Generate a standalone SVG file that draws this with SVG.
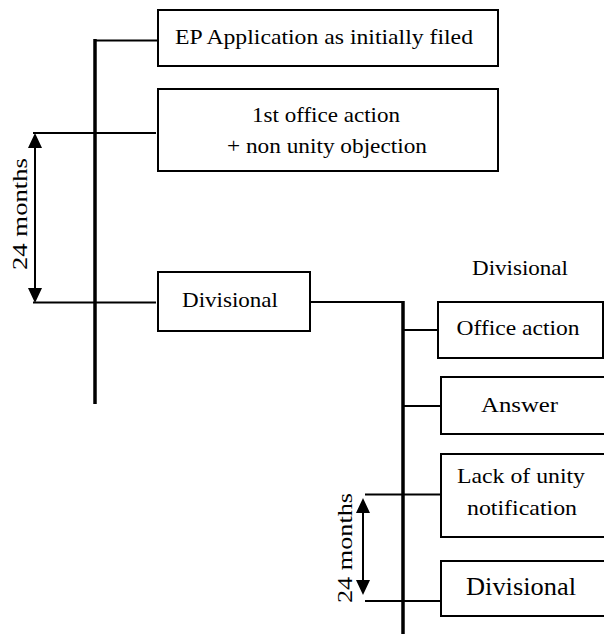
<svg xmlns="http://www.w3.org/2000/svg" width="604" height="635" viewBox="0 0 604 635">
<style>
.box{fill:#fff;stroke:#000;stroke-width:2}
.t{font-size:22px;fill:#000;text-anchor:middle}
.ln{stroke:#000;stroke-width:2;fill:none}
.thick{stroke:#000;stroke-width:3.5;fill:none}
.ah{fill:#000;stroke:none}
</style>
<rect width="604" height="635" fill="#fff"/>
<g id="connectors">
<line class="thick" x1="95" y1="39" x2="95" y2="404"/>
<line class="ln" x1="95" y1="40.5" x2="158" y2="40.5"/>
<line class="ln" x1="33" y1="133" x2="156" y2="133"/>
<line class="ln" x1="33" y1="302.5" x2="156" y2="302.5"/>
<line class="ln" x1="310" y1="302" x2="403" y2="302"/>
<line class="thick" x1="403" y1="301" x2="403" y2="634"/>
<line class="ln" x1="403" y1="330" x2="438" y2="330"/>
<line class="ln" x1="403" y1="406" x2="441" y2="406"/>
<line class="ln" x1="365" y1="494.5" x2="441" y2="494.5"/>
<line class="ln" x1="365" y1="601" x2="441" y2="601"/>
<line class="ln" x1="35" y1="145" x2="35" y2="290"/>
<polygon class="ah" points="35,133 28,148 42,148"/>
<polygon class="ah" points="35,303 28,288 42,288"/>
<line class="ln" x1="363" y1="510" x2="363" y2="583"/>
<polygon class="ah" points="363,498 356,513 370,513"/>
<polygon class="ah" points="363,595 356,580 370,580"/>
</g>
<g font-family="Liberation Serif, DejaVu Serif, serif">
<g id="months1"><text class="t" transform="translate(27,214) rotate(-90)" textLength="112" lengthAdjust="spacingAndGlyphs">24 months</text></g>
<g id="months2"><text class="t" transform="translate(352,548) rotate(-90)" textLength="110" lengthAdjust="spacingAndGlyphs">24 months</text></g>
<g id="ep-application">
<rect class="box" x="158" y="10" width="340" height="56"/>
<text class="t" x="324" y="44" textLength="298" lengthAdjust="spacingAndGlyphs">EP Application as initially filed</text>
</g>
<g id="first-office-action">
<rect class="box" x="158" y="89" width="340" height="82"/>
<text class="t" x="326" y="122" textLength="148" lengthAdjust="spacingAndGlyphs">1st office action</text>
<text class="t" x="327" y="153" textLength="200" lengthAdjust="spacingAndGlyphs">+ non unity objection</text>
</g>
<g id="divisional-1">
<rect class="box" x="158" y="272" width="152" height="59"/>
<text class="t" x="230" y="307" textLength="96" lengthAdjust="spacingAndGlyphs">Divisional</text>
</g>
<g id="divisional-label">
<text class="t" x="520" y="275" textLength="96" lengthAdjust="spacingAndGlyphs">Divisional</text>
</g>
<g id="office-action">
<rect class="box" x="438" y="302" width="165" height="56"/>
<text class="t" x="518" y="335" textLength="123" lengthAdjust="spacingAndGlyphs">Office action</text>
</g>
<g id="answer">
<rect class="box" x="441" y="377" width="170" height="57"/>
<text class="t" x="519.5" y="412" textLength="77" lengthAdjust="spacingAndGlyphs">Answer</text>
</g>
<g id="lack-of-unity">
<rect class="box" x="441" y="454" width="170" height="83"/>
<text class="t" x="521" y="483" textLength="128" lengthAdjust="spacingAndGlyphs">Lack of unity</text>
<text class="t" x="522" y="515" textLength="110" lengthAdjust="spacingAndGlyphs">notification</text>
</g>
<g id="divisional-2">
<rect class="box" x="441" y="561" width="170" height="55"/>
<text class="t" x="521" y="595" textLength="110" lengthAdjust="spacingAndGlyphs" style="font-size:25px">Divisional</text>
</g>
</g>
</svg>
